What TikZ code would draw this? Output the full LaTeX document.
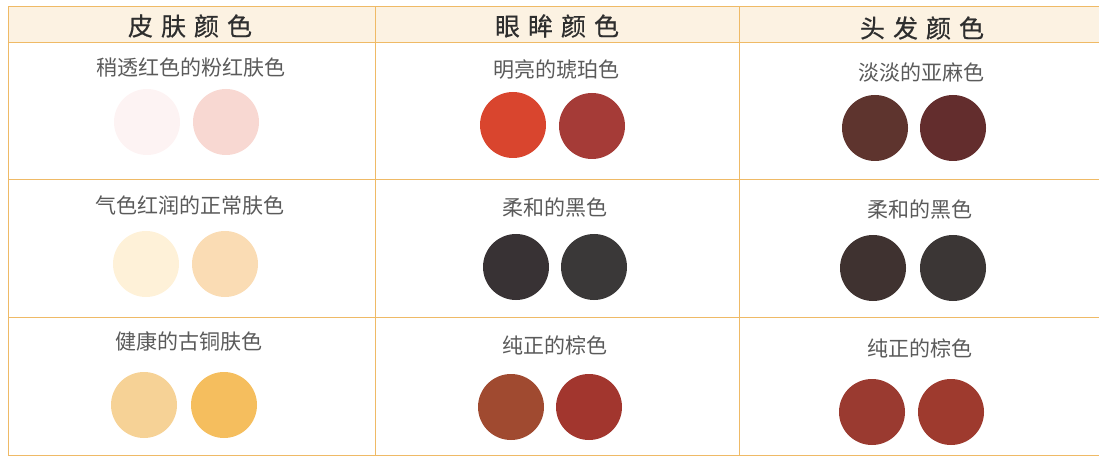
\documentclass[tikz,border=0pt]{standalone}
\usepackage{fontspec}
\newfontfamily\cjk{Noto Sans CJK SC}
\newfontfamily\cjkhead[FakeBold=0.6]{Noto Sans CJK SC}

\definecolor{gridline}{HTML}{EFBA66}
\definecolor{headfill}{HTML}{FCF2E2}
\definecolor{headtext}{HTML}{2E2E2E}
\definecolor{labeltext}{HTML}{5A5A5A}
% skin
\definecolor{skinAa}{HTML}{FDF3F3}
\definecolor{skinAb}{HTML}{F8D8D2}
\definecolor{skinBa}{HTML}{FEF1D8}
\definecolor{skinBb}{HTML}{FADCB4}
\definecolor{skinCa}{HTML}{F6D296}
\definecolor{skinCb}{HTML}{F5BE5E}
% eyes
\definecolor{eyeAa}{HTML}{D9452E}
\definecolor{eyeAb}{HTML}{A53B37}
\definecolor{eyeBa}{HTML}{383234}
\definecolor{eyeBb}{HTML}{3A3838}
\definecolor{eyeCa}{HTML}{A04A30}
\definecolor{eyeCb}{HTML}{A2362E}
% hair
\definecolor{hairAa}{HTML}{5E342E}
\definecolor{hairAb}{HTML}{632D2D}
\definecolor{hairBa}{HTML}{3F3230}
\definecolor{hairBb}{HTML}{3B3635}
\definecolor{hairCa}{HTML}{9A3A30}
\definecolor{hairCb}{HTML}{9E3A2E}

\tikzset{
  swatch/.style={circle, minimum size=66pt, inner sep=0pt, draw=none},
  caption/.style={font=\cjk\fontsize{21}{23}\selectfont, text=labeltext},
  colhead/.style={font=\cjkhead\fontsize{25}{28}\selectfont, text=headtext},
  rule/.style={gridline, line width=1pt},
}

\begin{document}
\begin{tikzpicture}[x=1pt, y=-1pt]
  \useasboundingbox (0,0) rectangle (1099,462);

  % table
  \fill [headfill] (8,7) rectangle (1099,43);
  \draw [rule] (8,7) -- (1099,7);
  \draw [rule] (8,43) -- (1099,43);
  \draw [rule] (8,180) -- (1099,180);
  \draw [rule] (8,317) -- (1099,317);
  \draw [rule] (8,455) -- (1099,455);
  \draw [rule] (8,7) -- (8,455);
  \draw [rule] (375,7) -- (375,455);
  \draw [rule] (739,7) -- (739,455);

  % headers
  \node (skinhead) [colhead] at (190,26) {皮\hspace{8pt}肤\hspace{8pt}颜\hspace{8pt}色};
  \node (eyehead)  [colhead] at (557,26) {眼\hspace{8pt}眸\hspace{8pt}颜\hspace{8pt}色};
  \node (hairhead) [colhead] at (922,28) {头\hspace{8pt}发\hspace{8pt}颜\hspace{8pt}色};

  % skin column
  \node (skinlabelA) [caption] at (191,68)  {稍透红色的粉红肤色};
  \node (skinlabelB) [caption] at (190,205) {气色红润的正常肤色};
  \node (skinlabelC) [caption] at (189,341) {健康的古铜肤色};
  \node (skinAa) [swatch, fill=skinAa] at (147,122) {};
  \node (skinAb) [swatch, fill=skinAb] at (226,122) {};
  \node (skinBa) [swatch, fill=skinBa] at (146,264) {};
  \node (skinBb) [swatch, fill=skinBb] at (225,264) {};
  \node (skinCa) [swatch, fill=skinCa] at (144,405) {};
  \node (skinCb) [swatch, fill=skinCb] at (224,405) {};

  % eye column
  \node (eyelabelA) [caption] at (556,70)  {明亮的琥珀色};
  \node (eyelabelB) [caption] at (555,208) {柔和的黑色};
  \node (eyelabelC) [caption] at (555,345) {纯正的棕色};
  \node (eyeAa) [swatch, fill=eyeAa] at (513,125) {};
  \node (eyeAb) [swatch, fill=eyeAb] at (592,126) {};
  \node (eyeBa) [swatch, fill=eyeBa] at (516,267) {};
  \node (eyeBb) [swatch, fill=eyeBb] at (594,267) {};
  \node (eyeCa) [swatch, fill=eyeCa] at (511,407) {};
  \node (eyeCb) [swatch, fill=eyeCb] at (589,407) {};

  % hair column
  \node (hairlabelA) [caption] at (921,72)  {淡淡的亚麻色};
  \node (hairlabelB) [caption] at (920,210) {柔和的黑色};
  \node (hairlabelC) [caption] at (920,348) {纯正的棕色};
  \node (hairAa) [swatch, fill=hairAa] at (875,128) {};
  \node (hairAb) [swatch, fill=hairAb] at (953,128) {};
  \node (hairBa) [swatch, fill=hairBa] at (873,268) {};
  \node (hairBb) [swatch, fill=hairBb] at (953,268) {};
  \node (hairCa) [swatch, fill=hairCa] at (872,412) {};
  \node (hairCb) [swatch, fill=hairCb] at (951,412) {};
\end{tikzpicture}
\end{document}
